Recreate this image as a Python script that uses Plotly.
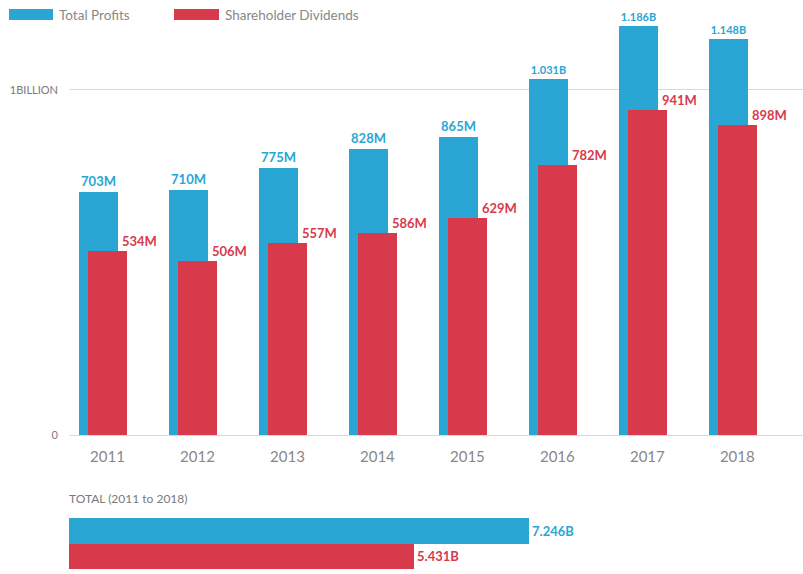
import plotly.graph_objects as go

years = ["2011", "2012", "2013", "2014", "2015", "2016", "2017", "2018"]
profits = [703, 710, 775, 828, 865, 1031, 1186, 1148]          # millions
dividends = [534, 506, 557, 586, 629, 782, 941, 898]           # millions
total_labels = ["Total Profits", "Shareholder Dividends"]
totals = [7.246, 5.431]                                         # billions
y_ticks = [0, 1000]
y_ticktext = ["0", "1BILLION"]

BLUE = "#29A6D3"
RED = "#D83A4B"
GREY = "#7a7a7a"
FONT = "Lato"
H = 574
HE = 569  # effective rendered height used for placing paper-fraction positions

def fmt(v):
    return f"{v}M" if v < 1000 else f"{v/1000:.3f}B"

def py(p):
    return min(1.0, max(0.0, 1 - p / HE))

OFF = 0.1
W = 0.433
xb = list(range(len(years)))
xr = [i + OFF for i in xb]

fig = go.Figure()
fig.add_trace(go.Bar(
    x=xb, y=profits, width=W, marker=dict(color=BLUE, line=dict(width=0)),
    name=total_labels[0], text=[f"<b>{fmt(v)}</b>" for v in profits], textposition="outside",
    textfont=dict(color=BLUE, family=FONT, size=[13 if v < 1000 else 11 for v in profits]),
    cliponaxis=False, showlegend=False, xaxis="x", yaxis="y"))
fig.add_trace(go.Bar(
    x=xr, y=dividends, width=W, marker=dict(color=RED, line=dict(width=0)),
    name=total_labels[1], showlegend=False, xaxis="x", yaxis="y"))

for x, v in zip(xr, dividends):
    fig.add_annotation(x=x + W / 2, y=v, xref="x", yref="y", text=f"<b>{fmt(v)}</b>",
                       showarrow=False, xanchor="left", yanchor="bottom", xshift=-7, yshift=0,
                       font=dict(color=RED, family=FONT, size=13))

# totals (horizontal bars)
fig.add_trace(go.Bar(
    y=[1, 0], x=totals, orientation="h", width=1,
    marker=dict(color=[BLUE, RED], line=dict(width=0)),
    text=[f"<b>{t:.3f}B</b>" for t in totals], textposition="outside",
    textfont=dict(color=[BLUE, RED], family=FONT, size=13),
    cliponaxis=False, showlegend=False, xaxis="x2", yaxis="y2"))

top_val = 1000 * 436 / (436 - 90)  # value at the top of the chart area

fig.update_layout(
    width=803, height=H, margin=dict(l=0, r=0, t=0, b=0, pad=0),
    paper_bgcolor="white", plot_bgcolor="white", barmode="overlay",
    font=dict(family=FONT, color=GREY),
    xaxis=dict(domain=[70 / 803, 1], range=[-0.317, 7.83], tickvals=xr, ticktext=years,
               showgrid=False, zeroline=False, showline=False, ticks="",
               tickfont=dict(size=15, color="#888888"), ticklabelstandoff=9),
    yaxis=dict(domain=[py(436), 1], range=[-4, top_val], tickvals=y_ticks,
               ticktext=y_ticktext, showgrid=True, gridcolor="#d9d9d9", gridwidth=1,
               zeroline=False, showline=False, ticks="",
               tickfont=dict(size=11, color=GREY), ticklabelstandoff=11),
    xaxis2=dict(domain=[69 / 803, 1], range=[0, (803 - 69) / 63.5], anchor="y2",
                showgrid=False, zeroline=False, showline=False, showticklabels=False),
    yaxis2=dict(domain=[py(568), py(517)], range=[-0.5, 1.5],
                anchor="x2", showgrid=False, zeroline=False, showline=False,
                showticklabels=False),
    bargap=0,
)

# legend
fig.add_shape(type="rect", xref="paper", yref="paper", x0=9 / 803, x1=53 / 803,
              y0=py(20), y1=py(9), fillcolor=BLUE, line=dict(width=0))
fig.add_shape(type="rect", xref="paper", yref="paper", x0=174 / 803, x1=219 / 803,
              y0=py(20), y1=py(9), fillcolor=RED, line=dict(width=0))
fig.add_annotation(xref="paper", yref="paper", x=57 / 803, y=py(15), text=total_labels[0],
                   showarrow=False, xanchor="left", yanchor="middle",
                   font=dict(size=13.5, color="#888888", family=FONT))
fig.add_annotation(xref="paper", yref="paper", x=223 / 803, y=py(15), text=total_labels[1],
                   showarrow=False, xanchor="left", yanchor="middle",
                   font=dict(size=13.5, color="#888888", family=FONT))
fig.add_annotation(xref="paper", yref="paper", x=67 / 803, y=py(498),
                   text=f"TOTAL ({years[0]} to {years[-1]})",
                   showarrow=False, xanchor="left", yanchor="middle",
                   font=dict(size=12, color=GREY, family=FONT))

fig.write_html("out.html")
